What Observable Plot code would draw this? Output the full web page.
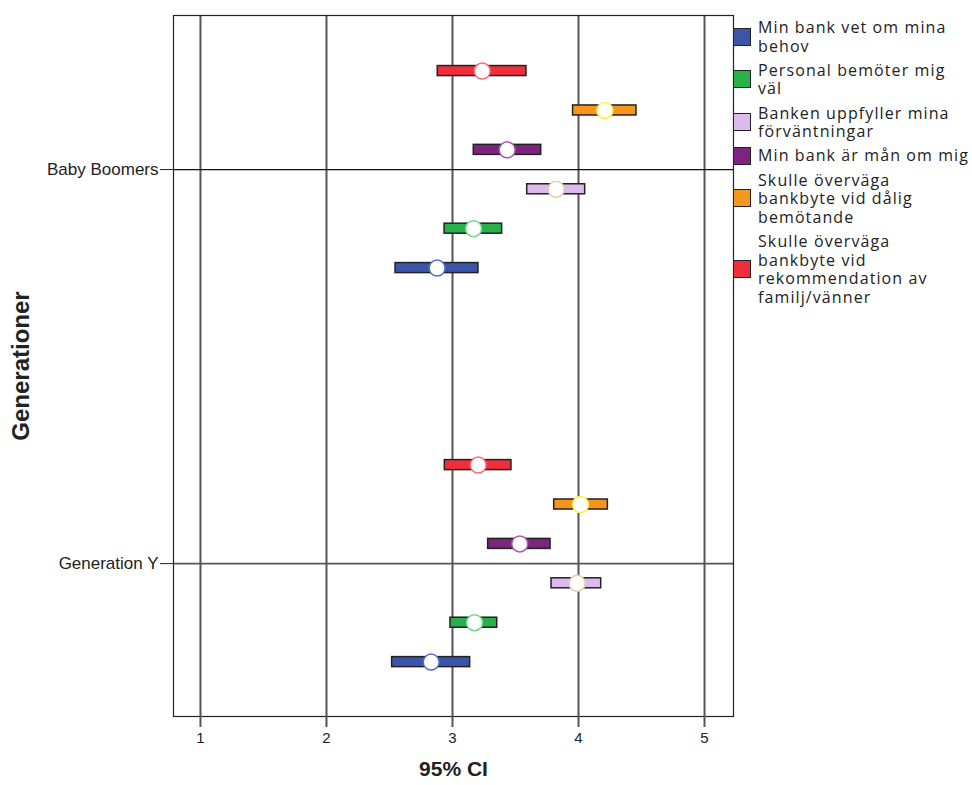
<!DOCTYPE html>
<html><head><meta charset="utf-8">
<script src="https://cdn.jsdelivr.net/npm/d3@7"></script>
<script src="https://cdn.jsdelivr.net/npm/@observablehq/plot@0.6"></script>
<style>
body{margin:0;background:#fff;}
#wrap{position:relative;width:972px;height:785px;overflow:hidden;}
#legend{position:absolute;left:733px;top:18px;font-family:"Open Sans",sans-serif;font-size:16px;letter-spacing:1.1px;color:#222;}
.item{display:flex;align-items:center;margin-bottom:5.6px;line-height:18.6px}
.sw{width:16px;height:16px;border:1px solid #222;margin-right:7px;flex:none}
.lab{white-space:pre}
</style></head><body><div id="wrap"><div id="legend"></div></div>
<script>
const generations = ["Baby Boomers", "Generation Y"];
const seriesNames = [
  "Min bank vet om mina\nbehov",
  "Personal bemöter mig\nväl",
  "Banken uppfyller mina\nförväntningar",
  "Min bank är mån om mig",
  "Skulle överväga\nbankbyte vid dålig\nbemötande",
  "Skulle överväga\nbankbyte vid\nrekommendation av\nfamilj/vänner"
];
const fillColors = ["#3b56a8", "#25b24b", "#dcb9ef", "#7b2480", "#f7961d", "#ee2f3b"];
const ringColors = ["#4d6fd2", "#72d888", "#d9d3a8", "#a458ac", "#fff04a", "#f56d75"];
const xTicks = [1, 2, 3, 4, 5];

// means and 95% CI bounds, in series order above
const bbMean = [2.878, 3.167, 3.823, 3.434, 4.209, 3.236];
const bbLow  = [2.548, 2.937, 3.593, 3.169, 3.957, 2.883];
const bbHigh = [3.206, 3.394, 4.053, 3.704, 4.460, 3.587];
const gyMean = [2.831, 3.175, 3.989, 3.534, 4.016, 3.204];
const gyLow  = [2.521, 2.984, 3.786, 3.283, 3.807, 2.939];
const gyHigh = [3.140, 3.355, 4.180, 3.778, 4.233, 3.468];

const groups = [[bbMean, bbLow, bbHigh], [gyMean, gyLow, gyHigh]];
const rows = [];
groups.forEach(([m, lo, hi], g) => {
  seriesNames.forEach((s, i) => {
    rows.push({gen: g, y: g + (2.5 - i) * 0.1, mean: m[i], lo: lo[i], hi: hi[i], fill: fillColors[i], ring: ringColors[i]});
  });
});
const half = 0.0127;

const chart = Plot.plot({
  width: 972, height: 785,
  marginLeft: 173, marginRight: 239, marginTop: 15, marginBottom: 69,
  style: {fontFamily: "'Liberation Sans', Arial, sans-serif", fontSize: "16px", color: "#222", background: "#fff", overflow: "visible"},
  x: {domain: [0.786, 5.23]},
  y: {domain: [-0.391, 1.388], reverse: true},
  color: {type: "identity"},
  marks: [
    Plot.ruleX(xTicks, {stroke: "#555", strokeWidth: 2}),
    Plot.ruleY([0], {stroke: "#111", strokeWidth: 1.2}),
    Plot.ruleY([1], {stroke: "#555", strokeWidth: 1.8}),
    Plot.frame({stroke: "#222", strokeWidth: 1.2}),
    Plot.axisX({ticks: xTicks, tickFormat: d => String(d), tickSize: 11, tickPadding: 5, stroke: "#555", strokeWidth: 2, label: null, fontSize: 15}),
    Plot.axisY({ticks: [0, 1], tickFormat: i => generations[i], tickSize: 13, tickPadding: 2, label: null, fontSize: 17}),
    Plot.rect(rows, {x1: "lo", x2: "hi", y1: d => d.y - half, y2: d => d.y + half, fill: "fill", stroke: "#222", strokeWidth: 1.5}),
    Plot.dot(rows, {x: "mean", y: "y", r: 8, fill: "white", stroke: "ring", strokeWidth: 1.5}),
    Plot.text(["95% CI"], {frameAnchor: "bottom", dy: 59, fontWeight: "bold", fontSize: 21, fill: "#222"}),
    Plot.text(["Generationer"], {frameAnchor: "left", textAnchor: "middle", dx: -152, rotate: -90, fontWeight: "bold", fontSize: 24, fill: "#222"})
  ]
});
chart.style.position = "absolute";
chart.style.left = "0px";
chart.style.top = "0px";
const wrap = document.getElementById("wrap");
wrap.insertBefore(chart, wrap.firstChild);

const legend = document.getElementById("legend");
seriesNames.forEach((s, i) => {
  const it = document.createElement("div");
  it.className = "item";
  const sw = document.createElement("div");
  sw.className = "sw";
  sw.style.background = fillColors[i];
  const lab = document.createElement("div");
  lab.className = "lab";
  lab.textContent = s;
  it.appendChild(sw); it.appendChild(lab);
  legend.appendChild(it);
});
</script></body></html>
